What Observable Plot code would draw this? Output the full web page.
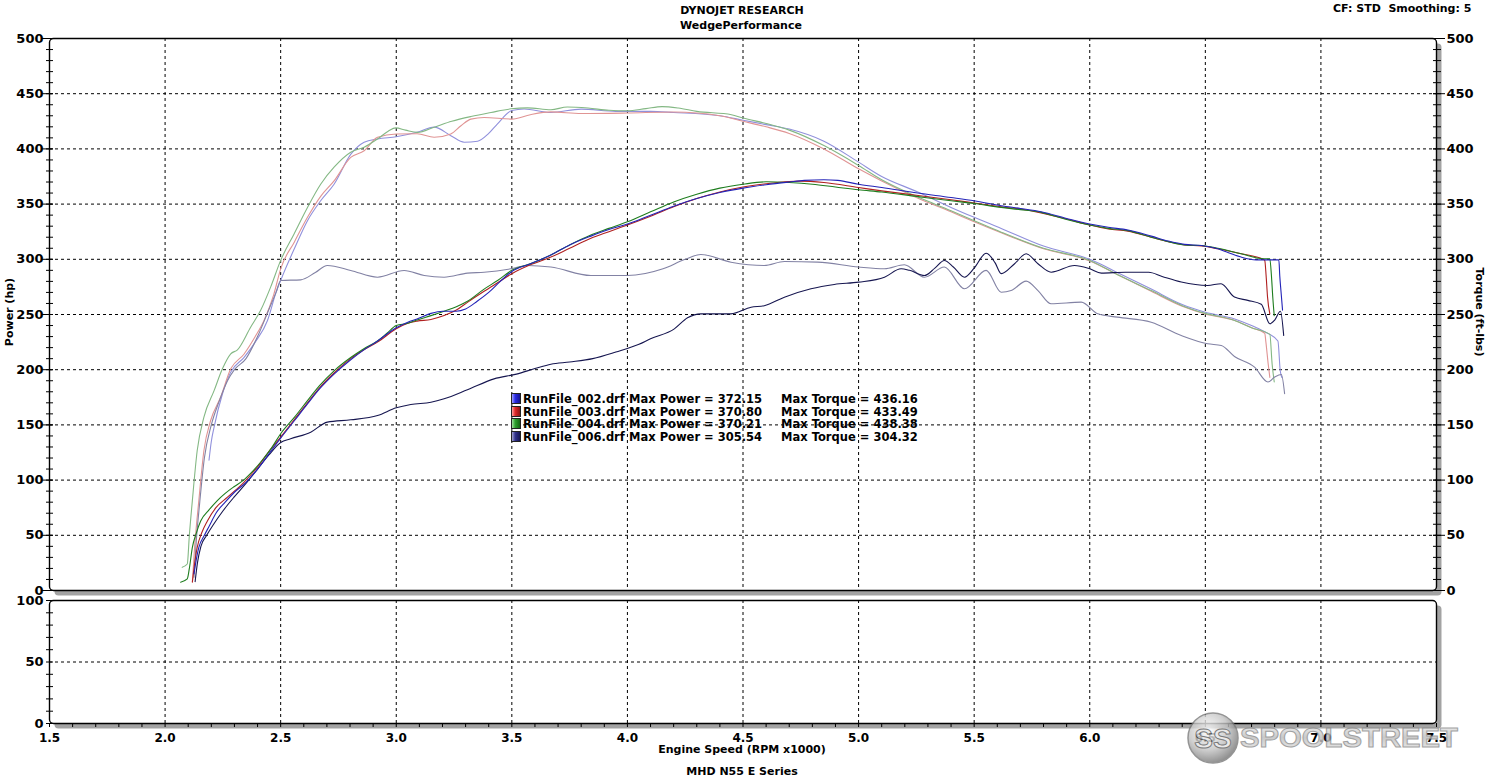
<!DOCTYPE html>
<html><head><meta charset="utf-8">
<script src="https://cdn.jsdelivr.net/npm/d3@7"></script>
<script src="https://cdn.jsdelivr.net/npm/@observablehq/plot@0.6"></script>
<style>
html,body{margin:0;padding:0;background:#fff;}
body{width:1485px;height:777px;position:relative;overflow:hidden;font-family:"DejaVu Sans",Verdana,sans-serif;font-weight:bold;color:#000;}
.t{position:absolute;white-space:pre;font-size:11px;line-height:11px;}
.c{transform:translateX(-50%);}
.pw{position:absolute;left:0;}
.row{position:absolute;left:0;height:11px;width:420px;}
.row span{position:absolute;top:0;white-space:pre;font-size:11.5px;line-height:11px;}
.sq{position:absolute;left:0;top:-1px;width:8px;height:9px;border:1px solid #222;}
</style></head><body>
<div id="top" class="pw" style="top:0"></div>
<div id="bot" class="pw" style="top:590px"></div>

<div class="t c" style="left:742px;top:4.7px">DYNOJET RESEARCH</div>
<div class="t c" style="left:741px;top:19.7px">WedgePerformance</div>
<div class="t" style="left:1333px;top:2.5px">CF: STD  Smoothing: 5</div>
<div class="t" style="left:8.5px;top:312px;transform:translate(-50%,-50%) rotate(-90deg)">Power (hp)</div>
<div class="t" style="left:1479px;top:312px;transform:translate(-50%,-50%) rotate(90deg)">Torque (ft-lbs)</div>
<div class="t c" style="left:742px;top:743.7px">Engine Speed (RPM x1000)</div>
<div class="t c" style="left:742px;top:765.7px">MHD N55 E Series</div>
<div id="legend" style="position:absolute;left:511px;top:393.7px;width:420px;height:60px"></div>

<svg id="logo" style="position:absolute;left:1186px;top:710px;opacity:0.8" width="280" height="58">
 <defs>
  <radialGradient id="lg1" cx="40%" cy="35%" r="70%"><stop offset="0" stop-color="#ffffff"/><stop offset="0.55" stop-color="#c4c4c4"/><stop offset="1" stop-color="#6a6a6a"/></radialGradient>
  <linearGradient id="lg2" x1="0" y1="0" x2="0" y2="1"><stop offset="0" stop-color="#f6f6f6"/><stop offset="0.5" stop-color="#bdbdbd"/><stop offset="1" stop-color="#ececec"/></linearGradient>
 </defs>
 <circle cx="27" cy="28" r="25" fill="url(#lg1)" stroke="#7a7a7a" stroke-width="1.5"/>
 <text x="27" y="38" text-anchor="middle" font-family="Liberation Sans" font-weight="bold" font-size="28" fill="#e4e4e4" stroke="#5a5a5a" stroke-width="1">SS</text>
 <text x="54" y="37" font-family="Liberation Sans" font-size="28" fill="url(#lg2)" stroke="#8a8a8a" stroke-width="1" textLength="218" lengthAdjust="spacingAndGlyphs">SPOOLSTREET</text>
</svg>

<script>
// ---- Data: [engine speed (RPM x1000), value] ----
const power002 = [[2.125,15],[2.135,28],[2.146,39],[2.17,50],[2.19,58],[2.22,70],[2.26,80],[2.3,89],[2.35,98],[2.4,110],[2.45,124],[2.5,138],[2.56,154],[2.616,169],[2.67,183],[2.731,196],[2.803,209],[2.86,218],[2.919,226],[3.0,238],[3.05,243],[3.09,246],[3.15,251],[3.2,253],[3.26,253],[3.3,255],[3.35,262],[3.4,270],[3.45,280],[3.5,289],[3.58,296],[3.669,304],[3.75,313],[3.842,321],[3.92,327],[4.0,332],[4.1,340],[4.2,348],[4.3,355],[4.4,360.5],[4.5,364.5],[4.6,367.5],[4.7,370],[4.765,371.5],[4.85,372.1],[4.91,371.5],[5.0,368],[5.1,365],[5.256,360],[5.4,356],[5.5,353],[5.617,348.5],[5.7,346],[5.79,343],[5.9,337],[6.0,332],[6.08,329],[6.165,326.5],[6.266,321],[6.34,316.5],[6.41,313.5],[6.483,312.5],[6.554,309.5],[6.6,306],[6.655,302],[6.72,299.5],[6.818,299.5],[6.822,285],[6.827,271.7],[6.834,254]];
const power003 = [[2.118,7.5],[2.125,20],[2.139,39],[2.16,53],[2.183,63],[2.22,75],[2.27,84.5],[2.341,98],[2.4,112],[2.45,126],[2.5,139],[2.56,155],[2.616,170],[2.67,184],[2.731,197],[2.803,210],[2.86,218],[2.919,225],[3.0,237],[3.05,242],[3.09,244],[3.15,245.5],[3.207,249],[3.26,254],[3.308,261],[3.38,271],[3.44,279],[3.5,287],[3.58,295],[3.669,302],[3.75,310],[3.842,319],[3.92,325],[4.0,331],[4.1,339],[4.2,347.5],[4.3,355],[4.4,361],[4.5,365.5],[4.6,368.5],[4.7,370.5],[4.75,370.8],[4.85,369.5],[5.0,365],[5.1,362],[5.25,358],[5.4,354],[5.5,351],[5.617,347.5],[5.7,345.5],[5.79,342],[5.9,336.5],[6.0,331],[6.08,327.5],[6.165,325.5],[6.266,320],[6.34,316],[6.41,313],[6.483,312],[6.554,309.5],[6.655,305],[6.75,300],[6.757,299],[6.763,285],[6.769,266],[6.779,250.6]];
const power004 = [[2.067,7.5],[2.096,10.5],[2.105,20],[2.118,39],[2.135,52],[2.154,63],[2.19,73],[2.226,81.5],[2.26,88],[2.298,94],[2.34,100],[2.37,106],[2.42,118],[2.46,129],[2.5,142],[2.56,157],[2.616,172],[2.67,186],[2.731,199],[2.803,211],[2.86,219],[2.919,226],[2.96,233],[3.0,240],[3.05,242],[3.09,245],[3.15,249],[3.207,253],[3.26,257],[3.308,262],[3.38,273],[3.44,281],[3.5,290],[3.58,296],[3.669,304],[3.75,313],[3.842,322],[3.92,328],[4.0,334],[4.1,343],[4.2,352],[4.3,359],[4.4,364.5],[4.5,368],[4.6,370.2],[4.7,369.5],[4.8,368],[4.9,365.5],[5.0,363],[5.1,361],[5.25,357],[5.4,353],[5.5,350.5],[5.617,347],[5.7,345],[5.79,342.5],[5.9,336],[6.0,331],[6.08,328],[6.165,326],[6.266,320],[6.34,316],[6.41,313],[6.483,312.5],[6.554,310],[6.655,305],[6.75,300.5],[6.779,300.4],[6.786,285],[6.792,265],[6.798,249]];
const power006 = [[2.13,8],[2.14,25],[2.155,40],[2.18,50],[2.21,60],[2.25,72],[2.3,85],[2.35,97],[2.4,110],[2.45,123],[2.5,134],[2.543,137.4],[2.63,143.4],[2.702,152.5],[2.803,154.6],[2.919,158.5],[3.0,165.5],[3.063,168.5],[3.15,170.5],[3.207,173.6],[3.308,181.8],[3.423,191.7],[3.52,196],[3.6,201],[3.669,205],[3.75,207],[3.85,210],[3.95,216],[4.05,223],[4.1,228],[4.203,237],[4.26,247],[4.318,250.6],[4.448,250.6],[4.535,256.6],[4.592,258],[4.679,265.7],[4.794,273.3],[4.895,277.2],[5.0,279.3],[5.112,283.8],[5.184,291.4],[5.22,290],[5.285,285.3],[5.33,292],[5.371,298.9],[5.41,293],[5.458,283.8],[5.5,292],[5.552,305.5],[5.59,297],[5.617,287],[5.675,296],[5.725,305],[5.776,296],[5.833,288.3],[5.934,294.4],[6.0,291.4],[6.05,287.5],[6.154,288.3],[6.255,288.3],[6.313,284.5],[6.396,279.4],[6.51,276.3],[6.568,277.9],[6.626,265.8],[6.684,262.8],[6.742,259.2],[6.779,241.6],[6.8,245],[6.825,253],[6.839,231]];

const torque002 = [[2.19,118],[2.2,135],[2.212,148],[2.248,178],[2.284,197.8],[2.341,211],[2.39,225],[2.443,244.6],[2.48,270],[2.512,287],[2.56,310],[2.616,335],[2.673,353],[2.731,368],[2.803,395],[2.861,406],[2.919,409],[3.0,411],[3.09,415],[3.164,419.7],[3.236,412],[3.294,406],[3.352,407],[3.4,414],[3.438,422.7],[3.5,434.7],[3.553,436.2],[3.669,433],[3.8,436],[3.95,434],[4.1,434],[4.2,433],[4.4,430],[4.5,426],[4.6,422],[4.7,418],[4.85,407],[5.0,388],[5.1,375],[5.256,361],[5.4,347],[5.5,338],[5.617,328],[5.8,312],[6.0,300],[6.13,287],[6.266,273],[6.4,259],[6.5,252],[6.627,246],[6.7,240],[6.75,235],[6.814,226],[6.824,199],[6.831,193]];
const torque003 = [[2.118,8],[2.128,40],[2.146,81.5],[2.168,126.8],[2.197,154],[2.24,175],[2.284,200.8],[2.341,214],[2.39,230],[2.428,244.6],[2.47,268],[2.5,291.4],[2.56,316],[2.616,338],[2.673,357],[2.731,371],[2.803,392.3],[2.861,398.3],[2.919,410.5],[3.0,413.5],[3.09,413.7],[3.164,410.5],[3.236,413.5],[3.28,421],[3.323,427],[3.38,428.5],[3.5,427],[3.58,431],[3.669,433.5],[3.8,432],[4.0,432.5],[4.2,433.4],[4.4,430],[4.5,425],[4.6,420],[4.7,414],[4.85,400],[5.0,382],[5.1,371],[5.25,356],[5.4,343],[5.5,334],[5.617,324],[5.8,309.5],[6.0,298.5],[6.13,285],[6.266,271],[6.4,257.5],[6.5,250.5],[6.627,244.6],[6.7,238],[6.757,233],[6.762,225],[6.772,205],[6.779,193]];
const torque004 = [[2.074,21],[2.096,24],[2.105,50],[2.118,81.5],[2.139,126.8],[2.168,157],[2.212,181],[2.248,200.8],[2.284,214.4],[2.313,218],[2.37,238.5],[2.414,254],[2.457,275],[2.5,299],[2.558,323],[2.616,347],[2.673,368],[2.731,383.4],[2.803,397],[2.861,401.5],[2.919,409],[2.965,416],[2.998,419],[3.04,417],[3.092,415],[3.164,419.7],[3.24,425],[3.323,429.3],[3.41,433],[3.496,436.3],[3.568,437.2],[3.669,435.4],[3.74,438],[3.83,437],[3.92,435],[4.0,434.5],[4.08,436.5],[4.15,438.3],[4.22,437],[4.3,434],[4.45,431],[4.5,428],[4.6,423],[4.7,417],[4.85,403],[5.0,385],[5.1,372],[5.25,357],[5.4,344],[5.5,335],[5.617,324.6],[5.8,310],[6.0,299],[6.13,285],[6.266,271.7],[6.4,258],[6.5,251],[6.627,244.6],[6.7,238],[6.779,232],[6.789,205],[6.798,189]];
const torque006 = [[2.125,12],[2.135,45],[2.15,80],[2.17,120],[2.2,150],[2.235,172],[2.27,190],[2.3,200],[2.35,210],[2.4,230],[2.45,255],[2.48,270],[2.5,280.8],[2.587,281.4],[2.65,288],[2.702,294.4],[2.803,289.9],[2.919,283.8],[3.034,289.9],[3.121,285.3],[3.207,283.8],[3.308,287.5],[3.38,288.3],[3.496,291.4],[3.568,294.4],[3.669,293],[3.842,285.3],[4.0,285.3],[4.154,291.4],[4.25,300],[4.318,304.3],[4.448,297.4],[4.592,294.4],[4.679,298],[4.823,297.4],[5.0,293],[5.112,291.4],[5.198,295],[5.285,283.8],[5.371,293],[5.458,273.3],[5.552,290],[5.617,270.2],[5.66,271.7],[5.725,280.2],[5.776,271.7],[5.833,259.7],[5.963,261.2],[6.035,250.6],[6.12,247.6],[6.266,243],[6.396,231],[6.51,223.5],[6.569,222],[6.626,212],[6.713,202.3],[6.771,188.8],[6.8,193.3],[6.829,195.7],[6.843,178.2]];

const runNames = ["RunFile_002.drf","RunFile_003.drf","RunFile_004.drf","RunFile_006.drf"];
const maxPower = ["372.15","370.80","370.21","305.54"];
const maxTorque = ["436.16","433.49","438.38","304.32"];
const powerColors = ["#2424b8","#b02020","#1e7d1e","#161650"];
const torqueColors = ["#9090dc","#e09494","#84b884","#8282a4"];
const legendSwatch = [["#a0a0ff","#2a2ae6","#14148c"],["#ffa0a0","#e02828","#8c1414"],["#a0e0a0","#2ca02c","#146414"],["#a0a0d0","#30308c","#141450"]];

const xMajor = d3.range(15, 76, 5).map(d => d / 10);
const xGrid = d3.range(20, 71, 5).map(d => d / 10);
const xMinor = d3.range(15, 76).map(d => d / 10);
const yMajorTop = d3.range(0, 501, 50);
const yMinorTop = d3.range(0, 501, 10);
const yGridTop = d3.range(50, 451, 50);
const yMajorBot = [0, 50, 100];
const yMinorBot = d3.range(0, 101, 10);
const yGridBot = [50];

const powerSeries = [power002, power003, power004, power006];
const torqueSeries = [torque002, torque003, torque004, torque006];

const style = {fontFamily: '"DejaVu Sans", Verdana, sans-serif', fontWeight: "bold", fontSize: "12px", background: "transparent", overflow: "visible", color: "#000"};
const grid = {stroke: "#000", strokeOpacity: 1, strokeWidth: 1, strokeDasharray: "3,3"};
const blank = () => "";

const lineMarks = [];
torqueSeries.forEach((s, i) => lineMarks.push(Plot.line(s, {x: d => d[0], y: d => d[1], stroke: torqueColors[i], strokeWidth: 1.1, curve: "monotone-x"})));
[3, 1, 2, 0].forEach(i => lineMarks.push(Plot.line(powerSeries[i], {x: d => d[0], y: d => d[1], stroke: powerColors[i], strokeWidth: 1.1, curve: "monotone-x"})));

const topPlot = Plot.plot({
  width: 1485, height: 600, marginTop: 38, marginBottom: 10, marginLeft: 49, marginRight: 49,
  x: {domain: [1.5, 7.5], axis: null},
  y: {domain: [0, 500], axis: null},
  style,
  marks: [
    Plot.frame({fill: "#a3a3a3", stroke: "none", dx: 5, dy: 5, rx: 4}),
    Plot.frame({fill: "white", stroke: "#000", strokeWidth: 1.4, rx: 4}),
    Plot.gridX(xGrid, grid),
    Plot.gridY(yGridTop, grid),
    ...lineMarks,
    Plot.axisY(yMinorTop, {anchor: "left", tickSize: 7, dx: 4, tickFormat: blank, label: null}),
    Plot.axisY(yMajorTop, {anchor: "left", tickSize: 11, dx: 4, tickFormat: blank, label: null}),
    Plot.axisY(yMajorTop, {anchor: "left", tickSize: 0, tickPadding: 6, fontSize: 13, label: null}),
    Plot.axisY(yMinorTop, {anchor: "right", tickSize: 8, dx: -4, tickFormat: blank, label: null}),
    Plot.axisY(yMajorTop, {anchor: "right", tickSize: 12, dx: -4, tickFormat: blank, label: null}),
    Plot.axisY(yMajorTop, {anchor: "right", tickSize: 0, tickPadding: 10, fontSize: 13, label: null})
  ]
});
document.getElementById("top").appendChild(topPlot);

const botPlot = Plot.plot({
  width: 1485, height: 187, marginTop: 10, marginBottom: 54, marginLeft: 49, marginRight: 49,
  x: {domain: [1.5, 7.5], axis: null},
  y: {domain: [0, 100], axis: null},
  style,
  marks: [
    Plot.frame({fill: "#a3a3a3", stroke: "none", dx: 5, dy: 5, rx: 4}),
    Plot.frame({fill: "white", stroke: "#000", strokeWidth: 1.4, rx: 4}),
    Plot.gridX(xGrid, grid),
    Plot.gridY(yGridBot, grid),
    Plot.axisY(yMinorBot, {anchor: "left", tickSize: 7, dx: 4, tickFormat: blank, label: null}),
    Plot.axisY(yMajorBot, {anchor: "left", tickSize: 0, tickPadding: 6, fontSize: 13, label: null}),
    Plot.axisX(xMinor, {anchor: "bottom", tickSize: 4, tickFormat: blank, label: null}),
    Plot.axisX(xMajor, {anchor: "bottom", tickSize: 0, tickPadding: 10, fontSize: 12, tickFormat: d => d.toFixed(1), label: null})
  ]
});
document.getElementById("bot").appendChild(botPlot);

// legend (drawn as text inside the plot area, like the dyno software)
const leg = document.getElementById("legend");
runNames.forEach((n, i) => {
  const row = document.createElement("div");
  row.className = "row";
  row.style.top = (i * 12.9) + "px";
  const [a, b, c] = legendSwatch[i];
  row.innerHTML = `<div class="sq" style="background:linear-gradient(to right, ${a} 0%, ${b} 40%, ${c} 100%)"></div>` +
    `<span style="left:12px">${n}</span>` +
    `<span style="left:118px">Max Power = ${maxPower[i]}</span>` +
    `<span style="left:270px">Max Torque = ${maxTorque[i]}</span>`;
  leg.appendChild(row);
});
</script>
</body></html>
